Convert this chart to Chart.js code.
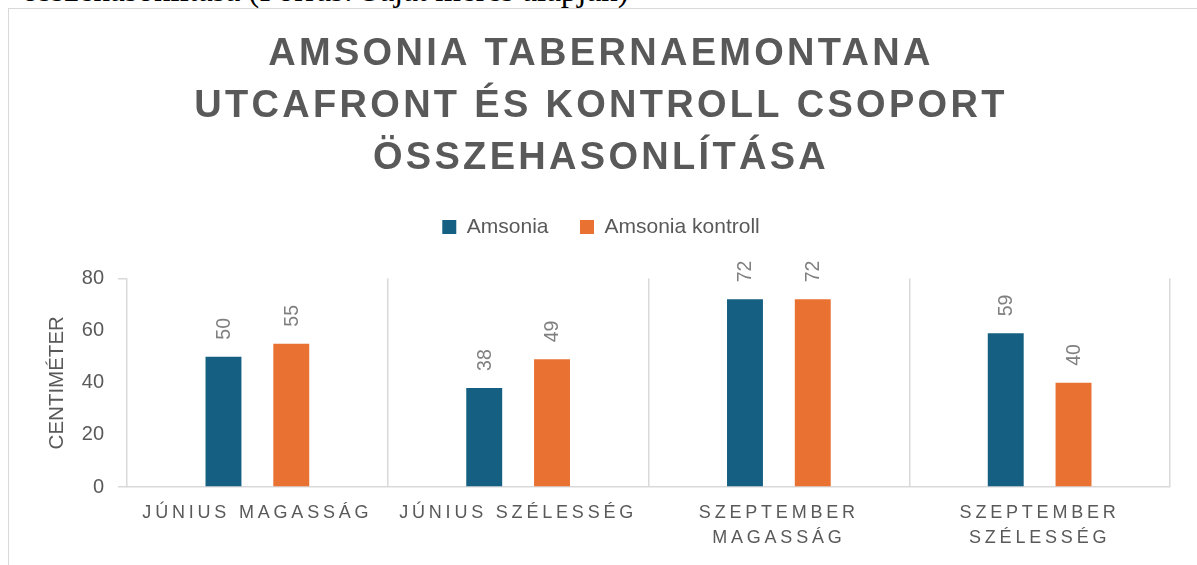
<!DOCTYPE html>
<html lang="hu">
<head>
    <meta charset="UTF-8" />
    <title>Amsonia tabernaemontana</title>
    <script src="https://cdn.jsdelivr.net/npm/chart.js"></script>
    <style>
        html, body {
            margin: 0;
            padding: 0;
            background: #ffffff;
            overflow: hidden;
            width: 1197px;
            height: 565px;
        }

        .caption {
            position: absolute;
            left: 22px;
            top: -26px;
            font-family: "Liberation Serif", serif;
            font-size: 33px;
            line-height: 33px;
            color: #000000;
            white-space: nowrap;
        }

        .chart-box {
            position: absolute;
            left: 8px;
            top: 8px;
            width: 1400px;
            height: 700px;
            border: 1.5px solid #d9d9d9;
            box-sizing: border-box;
        }

        #chart {
            position: absolute;
            left: 9px;
            top: 9px;
        }
    </style>
</head>
<body>

<div class="caption">összehasonlítása (Forrás: Saját mérés alapján)</div>
<div class="chart-box"></div>
<canvas id="chart" width="1194" height="556"></canvas>

<script>
    const categories = ['JÚNIUS MAGASSÁG', 'JÚNIUS SZÉLESSÉG', ['SZEPTEMBER', 'MAGASSÁG'], ['SZEPTEMBER', 'SZÉLESSÉG']];
    const amsonia = [50, 38, 72, 59];
    const amsoniaKontroll = [55, 49, 72, 40];
    const seriesNames = ['Amsonia', 'Amsonia kontroll'];
    const titleLines = ['AMSONIA TABERNAEMONTANA', 'UTCAFRONT ÉS KONTROLL CSOPORT', 'ÖSSZEHASONLÍTÁSA'];
    const yAxisTitle = 'CENTIMÉTER';

    const GRAY = '#595959';
    const LINE = '#d9d9d9';

    Chart.defaults.font.family = '"Liberation Sans", Arial, sans-serif';
    Chart.defaults.color = GRAY;

    // wraps a draw method so its text gets canvas letter spacing
    function withSpacing(obj, method, spacing) {
        if (!obj || obj['_sp_' + method]) return;
        const orig = obj[method];
        obj[method] = function (...args) {
            const ctx = this.ctx;
            ctx.save();
            ctx.letterSpacing = spacing;
            orig.apply(this, args);
            ctx.restore();
        };
        obj['_sp_' + method] = true;
    }

    const spacedText = {
        id: 'spacedText',
        beforeDraw(chart) {
            withSpacing(chart.titleBlock, 'draw', '3.3px');
            withSpacing(chart.scales.x, 'drawLabels', '3.8px');
        }
    };

    // extra room under the legend, before the plot area
    const legendGap = {
        id: 'legendGap',
        beforeLayout(chart) {
            const lg = chart.legend;
            if (!lg || lg._gapWrapped) return;
            const fit = lg.fit;
            lg.fit = function () {
                fit.call(this);
                this.height += 31;
            };
            lg._gapWrapped = true;
        }
    };

    // rotated value labels above each bar
    const barLabels = {
        id: 'barLabels',
        afterDatasetsDraw(chart) {
            const ctx = chart.ctx;
            ctx.save();
            ctx.font = '19.5px "Liberation Sans", Arial, sans-serif';
            ctx.fillStyle = '#808080';
            ctx.textAlign = 'left';
            ctx.textBaseline = 'middle';
            chart.data.datasets.forEach((ds, i) => {
                chart.getDatasetMeta(i).data.forEach((bar, j) => {
                    ctx.save();
                    ctx.translate(bar.x, bar.y - 17);
                    ctx.rotate(-Math.PI / 2);
                    ctx.fillText(String(ds.data[j]), 0, 1);
                    ctx.restore();
                });
            });
            ctx.restore();
        }
    };

    new Chart(document.getElementById('chart'), {
        type: 'bar',
        data: {
            labels: categories,
            datasets: [{
                label: seriesNames[0],
                data: amsonia,
                backgroundColor: '#156082',
                categoryPercentage: 0.52,
                barPercentage: 0.53
            }, {
                label: seriesNames[1],
                data: amsoniaKontroll,
                backgroundColor: '#E97132',
                categoryPercentage: 0.52,
                barPercentage: 0.53
            }]
        },
        options: {
            responsive: false,
            animation: false,
            layout: {
                padding: { left: 23, right: 33, top: 0, bottom: 0 }
            },
            scales: {
                x: {
                    grid: {
                        offset: true,
                        color: LINE,
                        lineWidth: 1.5,
                        drawTicks: false
                    },
                    border: { display: true, color: LINE, width: 1.5 },
                    ticks: {
                        color: GRAY,
                        padding: 14,
                        maxRotation: 0,
                        font: { size: 18, lineHeight: '25px' }
                    },
                    afterFit(scale) { scale.height = 78; }
                },
                y: {
                    min: 0,
                    max: 80,
                    ticks: {
                        stepSize: 20,
                        color: GRAY,
                        padding: 14,
                        font: { size: 20 }
                    },
                    grid: {
                        drawOnChartArea: false,
                        tickLength: 9,
                        lineWidth: 1.5,
                        color: (c) => (c.tick && (c.tick.value === 80 || c.tick.value === 0)) ? LINE : 'rgba(0,0,0,0)'
                    },
                    border: { display: false },
                    title: {
                        display: true,
                        text: yAxisTitle,
                        color: GRAY,
                        font: { size: 20.5 },
                        padding: { top: 13, bottom: 13 }
                    },
                    afterFit(scale) { scale.width = 95; }
                }
            },
            plugins: {
                title: {
                    display: true,
                    text: titleLines,
                    color: GRAY,
                    font: { size: 38, weight: 'bold', lineHeight: '52px' },
                    padding: { top: 20, bottom: 0 }
                },
                legend: {
                    display: true,
                    position: 'top',
                    labels: {
                        color: GRAY,
                        boxWidth: 14,
                        boxHeight: 14,
                        padding: 31.5,
                        font: { size: 21 }
                    }
                },
                tooltip: { enabled: false }
            }
        },
        plugins: [spacedText, legendGap, barLabels]
    });
</script>

</body>
</html>
